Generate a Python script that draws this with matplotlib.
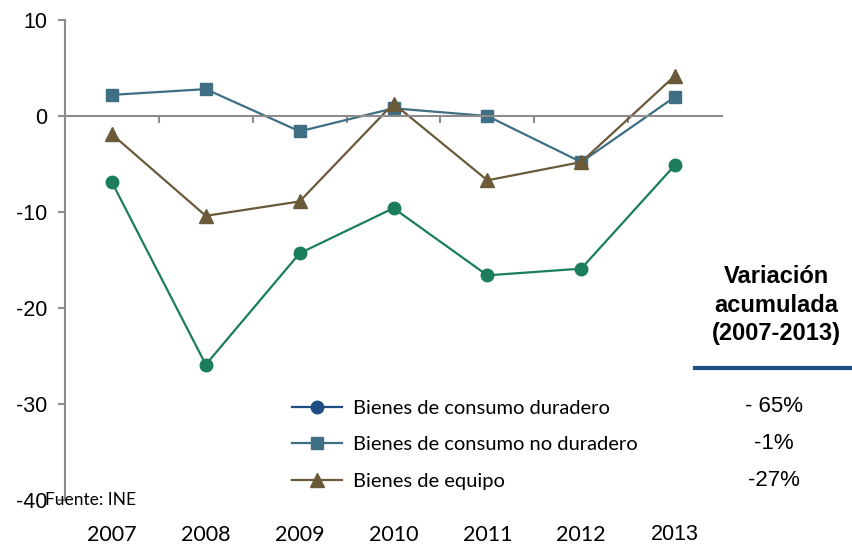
import matplotlib.pyplot as plt
from matplotlib.lines import Line2D
from matplotlib.transforms import blended_transform_factory

years = ["2007", "2008", "2009", "2010", "2011", "2012", "2013"]
duradero = [-6.9, -25.9, -14.3, -9.6, -16.6, -15.9, -5.1]
no_duradero = [2.2, 2.8, -1.6, 0.8, 0.0, -4.8, 2.0]
equipo = [-1.9, -10.4, -8.9, 1.3, -6.7, -4.8, 4.2]
names = ["Bienes de consumo duradero", "Bienes de consumo no duradero", "Bienes de equipo"]
acumulada = ["- 65%", "-1%", "-27%"]

c_dur = "#1B7D5C"
c_nodur = "#3E6F84"
c_equ = "#6A5A3A"
c_leg_dur = "#1F4E87"
grey = "#8C8C8C"

fig = plt.figure(figsize=(8.52, 5.45), dpi=100)
ax = fig.add_axes([65 / 852, 1 - 500 / 545, 657 / 852, 480 / 545])

x = list(range(len(years)))
ax.plot(x, duradero, color=c_dur, marker="o", markersize=9, lw=1.6)
ax.plot(x, no_duradero, color=c_nodur, marker="s", markersize=9, lw=1.6)
ax.plot(x, equipo, color=c_equ, marker="^", markersize=10, lw=1.6)

ax.set_xlim(-0.5, 6.5)
ax.set_ylim(-40, 10)
ax.set_yticks([10, 0, -10, -20, -30, -40])
ax.set_yticklabels(["10", "0", "-10", "-20", "-30", "-40"], family="Liberation Sans", fontsize=15.5)
ax.tick_params(axis="y", colors=grey, labelcolor="#000000", length=5, width=1.5, pad=8)

for s in ["top", "right"]:
    ax.spines[s].set_visible(False)
ax.spines["left"].set_color(grey)
ax.spines["left"].set_linewidth(1.5)
ax.spines["bottom"].set_position(("data", 0))
ax.spines["bottom"].set_color(grey)
ax.spines["bottom"].set_linewidth(1.5)
ax.set_xticks([i + 0.5 for i in range(len(years) - 1)])
ax.set_xticklabels([])
ax.tick_params(axis="x", colors=grey, length=5, width=1.5)

# year labels below the plot
tr = blended_transform_factory(ax.transData, fig.transFigure)
for i, yr in enumerate(years):
    if yr == "2013":
        ax.text(i, 1 - 534 / 545, yr, transform=tr, ha="center", va="center",
                family="Liberation Sans", fontsize=15.5)
    else:
        ax.text(i, 1 - 535 / 545, yr, transform=tr, ha="center", va="center",
                family="Lato", fontsize=15.5)

# legend
handles = [
    Line2D([], [], color=c_leg_dur, marker="o", markersize=9, lw=1.6),
    Line2D([], [], color=c_nodur, marker="s", markersize=9, lw=1.6),
    Line2D([], [], color=c_equ, marker="^", markersize=10, lw=1.6),
]
fig.legend(handles, names, loc="upper left", bbox_to_anchor=(274 / 852, 1 - 382 / 545),
           frameon=False, handlelength=2.5, handletextpad=0.5, labelspacing=0.95,
           prop={"family": "Lato", "size": 14.5})

for i, v in enumerate(acumulada):
    fig.text(774 / 852, 1 - (406 + 37.5 * i) / 545, v, ha="center", va="center",
             family="Liberation Sans", fontsize=16)

fig.text(776 / 852, 1 - 305 / 545, "Variación\nacumulada\n(2007-2013)", ha="center", va="center",
         family="Liberation Sans", fontsize=17, fontweight="bold", linespacing=1.3)
fig.add_artist(Line2D([695 / 852, 1.0], [1 - 368 / 545, 1 - 368 / 545], color="#1F4E87", lw=3))

fig.text(45 / 852, 1 - 500 / 545, "Fuente: INE", ha="left", va="center",
         family="Lato", fontsize=12.5)

fig.savefig("out.png", dpi=100)
